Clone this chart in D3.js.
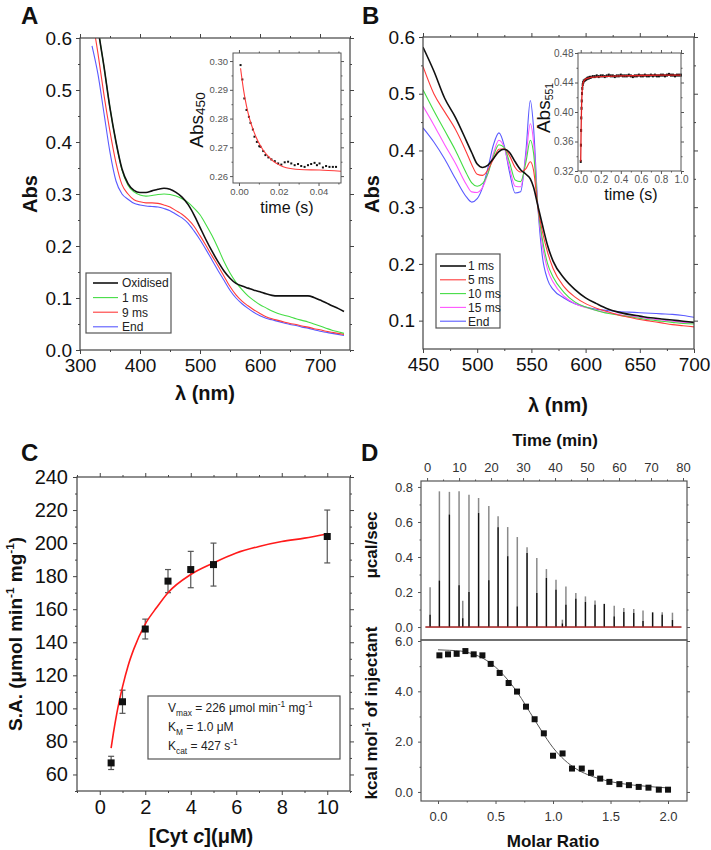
<!DOCTYPE html>
<html><head><meta charset="utf-8">
<script src="https://cdn.jsdelivr.net/npm/d3@7"></script>
<style>
html,body{margin:0;padding:0;background:#fff;}
svg text{font-family:"Liberation Sans",Arial,sans-serif;}
</style></head><body>
<svg id="fig" width="711" height="850"></svg>
<script>
// ---------------- Panel A data ----------------
const wlA = [320,330,340,350,360,370,380,390,400,410,420,430,440,450,460,470,480,490,500,510,520,530,540,550,560,570,580,590,600,610,620,630,640,650,660,670,680,690,700,710,720,730,740];
const absOxidised = [0.72,0.62,0.545,0.465,0.40,0.348,0.320,0.307,0.303,0.303,0.306,0.309,0.311,0.309,0.303,0.294,0.280,0.260,0.236,0.212,0.190,0.170,0.152,0.138,0.128,0.123,0.119,0.115,0.112,0.108,0.105,0.104,0.104,0.104,0.104,0.104,0.104,0.101,0.096,0.091,0.085,0.080,0.074];
const abs1ms = [0.72,0.62,0.545,0.465,0.40,0.346,0.317,0.304,0.298,0.296,0.297,0.299,0.300,0.299,0.296,0.291,0.284,0.273,0.260,0.241,0.220,0.196,0.170,0.148,0.130,0.116,0.104,0.095,0.087,0.081,0.075,0.070,0.067,0.064,0.060,0.057,0.054,0.050,0.046,0.042,0.038,0.035,0.032];
const abs9ms = [0.64,0.57,0.49,0.42,0.36,0.318,0.300,0.289,0.285,0.283,0.283,0.282,0.279,0.275,0.268,0.261,0.251,0.238,0.220,0.201,0.181,0.162,0.142,0.122,0.106,0.094,0.085,0.077,0.070,0.064,0.060,0.057,0.054,0.051,0.049,0.046,0.044,0.041,0.039,0.036,0.034,0.032,0.030];
const absEndA = [0.585,0.53,0.455,0.38,0.325,0.300,0.290,0.282,0.279,0.277,0.276,0.275,0.272,0.268,0.261,0.254,0.244,0.229,0.212,0.193,0.173,0.153,0.134,0.115,0.100,0.089,0.080,0.072,0.066,0.061,0.058,0.055,0.052,0.049,0.047,0.044,0.042,0.039,0.036,0.034,0.032,0.030,0.028];
const legendA = ["Oxidised","1 ms","9 ms","End"];

// inset A (Abs450 vs time)
const insetATime = [0.0008,0.0017,0.0027,0.0038,0.0050,0.0058,0.0070,0.0078,0.0090,0.0102,0.0108,0.0122,0.0133,0.0148,0.0163,0.0180,0.0197,0.0213,0.0230,0.0247,0.0263,0.0280,0.0297,0.0313,0.0330,0.0347,0.0363,0.0380,0.0392,0.0405,0.0422,0.0438,0.0455,0.0472,0.0488];
const insetAAbs = [0.2986,0.2936,0.2870,0.2830,0.2806,0.2785,0.2762,0.2737,0.2719,0.2704,0.2702,0.2687,0.2673,0.2665,0.2658,0.2652,0.2644,0.2640,0.2648,0.2650,0.2644,0.2638,0.2642,0.2635,0.2632,0.2638,0.2642,0.2646,0.2638,0.2644,0.2630,0.2635,0.2632,0.2632,0.2632];
const insetAFitTime = [0.0008,0.0023,0.0038,0.0055,0.0072,0.0095,0.0122,0.0150,0.0172,0.0205,0.0238,0.0305,0.0405,0.0513];
const insetAFitAbs = [0.2975,0.2900,0.2843,0.2795,0.2760,0.2722,0.2690,0.2667,0.2652,0.2638,0.2629,0.2623,0.2621,0.2617];

// ---------------- Panel B data ----------------
const wlB = [450,460,470,480,490,495,500,505,510,515,520,525,530,535,540,545,549,552,556,560,565,570,580,590,600,610,620,630,640,650,660,670,680,690,700];
const absB1ms = [0.582,0.540,0.492,0.458,0.417,0.396,0.376,0.370,0.374,0.386,0.398,0.402,0.396,0.380,0.366,0.358,0.350,0.335,0.302,0.270,0.232,0.205,0.175,0.155,0.140,0.130,0.121,0.115,0.111,0.108,0.105,0.103,0.101,0.099,0.097];
const absB5ms = [0.548,0.500,0.468,0.437,0.397,0.375,0.358,0.356,0.366,0.385,0.402,0.403,0.390,0.370,0.362,0.368,0.380,0.365,0.300,0.258,0.220,0.192,0.160,0.142,0.130,0.122,0.116,0.110,0.106,0.102,0.099,0.096,0.093,0.091,0.089];
const absB10ms = [0.507,0.470,0.435,0.400,0.360,0.343,0.337,0.342,0.360,0.390,0.410,0.405,0.378,0.348,0.345,0.380,0.418,0.395,0.300,0.245,0.200,0.177,0.150,0.133,0.124,0.118,0.113,0.110,0.107,0.104,0.101,0.099,0.097,0.095,0.094];
const absB15ms = [0.478,0.445,0.410,0.377,0.340,0.327,0.326,0.335,0.360,0.395,0.418,0.405,0.368,0.337,0.336,0.390,0.447,0.415,0.300,0.235,0.190,0.168,0.143,0.130,0.123,0.118,0.114,0.111,0.108,0.106,0.103,0.101,0.099,0.097,0.096];
const absBEnd = [0.440,0.415,0.385,0.350,0.318,0.309,0.315,0.335,0.370,0.410,0.431,0.408,0.360,0.325,0.327,0.400,0.488,0.440,0.300,0.215,0.172,0.155,0.140,0.130,0.124,0.120,0.118,0.116,0.115,0.114,0.113,0.112,0.111,0.109,0.106];
const legendB = ["1 ms","5 ms","10 ms","15 ms","End"];

// inset B (Abs551 vs time)
const insetBTime = [0.000,0.002,0.004,0.006,0.008,0.010,0.013,0.016,0.020,0.025,0.030,0.040,0.050,0.060,0.070,0.080,0.090,0.100,0.120,0.140,0.160,0.180,0.200,0.220,0.240,0.260,0.280,0.300,0.320,0.340,0.360,0.380,0.400,0.420,0.440,0.460,0.480,0.500,0.520,0.540,0.560,0.580,0.600,0.620,0.640,0.660,0.680,0.700,0.720,0.740,0.760,0.780,0.800,0.820,0.840,0.860,0.880,0.900,0.920,0.940,0.960,0.980,1.000];
const insetBAbs = [0.333,0.355,0.375,0.392,0.405,0.415,0.425,0.432,0.437,0.440,0.442,0.443,0.444,0.445,0.446,0.446,0.447,0.447,0.448,0.448,0.449,0.448,0.449,0.449,0.448,0.449,0.450,0.449,0.449,0.448,0.449,0.449,0.450,0.449,0.449,0.449,0.450,0.449,0.448,0.449,0.449,0.450,0.449,0.449,0.450,0.449,0.449,0.450,0.449,0.450,0.449,0.449,0.450,0.450,0.449,0.450,0.451,0.450,0.450,0.449,0.450,0.450,0.450];
const insetBFitTime = [0,0.003,0.006,0.010,0.015,0.020,0.030,0.050,0.100,0.200,0.400,0.600,0.800,1.000];
const insetBFitAbs = [0.333,0.365,0.392,0.415,0.430,0.437,0.442,0.445,0.447,0.448,0.449,0.4495,0.450,0.450];

// ---------------- Panel C data ----------------
const cytConc = [0.5,1,2,3,4,5,10];
const specActivity = [67,104,148,177,184,187,204];
const specActivityErr = [4,7,6,7,11,13,16];
const fitConc = [0.5,0.6,0.75,1,1.25,1.5,2,2.5,3,4,5,6,7,8,9,10];
const fitSA = [76,85,97,113,126,136,151,161,170,181,188,194,198,201,203,205.5];

// ---------------- Panel D data ----------------
const injTime = [0.94,3.85,6.98,10.0,11.15,13.1,16.1,19.3,22.2,25.2,28.2,31.25,34.3,37.3,40.3,42.3,43.4,46.5,49.5,52.5,55.4,58.5,61.5,64.6,67.5,70.5,73.5,76.7];
const injPeak = [0.227,0.775,0.772,0.775,0.150,0.756,0.737,0.691,0.632,0.571,0.514,0.455,0.394,0.331,0.270,0.042,0.232,0.194,0.175,0.152,0.133,0.122,0.109,0.103,0.095,0.086,0.084,0.082];
const injInner = [0.070,0.265,0.642,0.238,0.050,0.200,0.651,0.267,0.570,0.404,0.118,0.423,0.194,0.280,0.213,0.020,0.128,0.162,0.143,0.128,0.131,0.060,0.086,0.080,0.035,0.082,0.070,0.040];
const molarRatio = [0.012,0.087,0.162,0.238,0.31,0.386,0.458,0.536,0.614,0.687,0.765,0.84,0.92,1.0,1.083,1.165,1.25,1.33,1.41,1.49,1.577,1.66,1.745,1.83,1.92,2.0];
const heatValues = [5.43,5.47,5.49,5.60,5.47,5.43,5.09,4.73,4.33,3.99,3.39,2.89,2.33,1.44,1.53,0.93,0.93,0.76,0.53,0.40,0.31,0.27,0.20,0.17,0.09,0.09];
const fitRatio = [0,0.1,0.2,0.3,0.4,0.5,0.6,0.7,0.8,0.9,1.0,1.1,1.2,1.3,1.4,1.5,1.6,1.7,1.8,1.9,2.0];
const fitHeat = [5.65,5.63,5.60,5.49,5.29,4.96,4.49,3.89,3.16,2.43,1.76,1.27,0.92,0.69,0.53,0.41,0.33,0.27,0.23,0.19,0.16];

// ---------------- tick values ----------------
const ticksAx = [300,400,500,600,700], minorAx = [350,450,550,650,750];
const ticksAy = [0,0.1,0.2,0.3,0.4,0.5,0.6], minorAy = [0.05,0.15,0.25,0.35,0.45,0.55];
const ticksIAx = [0,0.02,0.04], minorIAx = [0.01,0.03,0.05];
const ticksIAy = [0.26,0.27,0.28,0.29,0.30], minorIAy = [0.265,0.275,0.285,0.295];
const ticksBx = [450,500,550,600,650,700], minorBx = [475,525,575,625,675];
const ticksBy = [0.1,0.2,0.3,0.4,0.5,0.6], minorBy = [0.15,0.25,0.35,0.45,0.55];
const ticksIBx = [0,0.2,0.4,0.6,0.8,1.0], minorIBx = [0.1,0.3,0.5,0.7,0.9];
const ticksIBy = [0.32,0.36,0.40,0.44,0.48], minorIBy = [0.34,0.38,0.42,0.46];
const ticksCx = [0,2,4,6,8,10], minorCx = [-1,1,3,5,7,9,11];
const ticksCy = [60,80,100,120,140,160,180,200,220,240], minorCy = [50,70,90,110,130,150,170,190,210,230];
const ticksDt = [0,10,20,30,40,50,60,70,80], minorDt = [5,15,25,35,45,55,65,75];
const ticksDty = [0,0.2,0.4,0.6,0.8], minorDty = [0.1,0.3,0.5,0.7];
const ticksDbx = [0,0.5,1.0,1.5,2.0], minorDbx = [0.25,0.75,1.25,1.75];
const ticksDby = [0,2,4,6], minorDby = [1,3,5];

// ---------------- helpers ----------------
const svg = d3.select("#fig");
const FONT = '"Liberation Sans", Arial, sans-serif';

function axes(g, x, y, o) {
  const [xa, xb] = x.range(), [ya, yb] = y.range();
  const col = o.color || "#444";
  const sides = [
    {fn: d3.axisBottom, s: x, t: `translate(0,${ya})`, maj: o.xMajor, min: o.xMinor, lab: o.bottom, fmt: o.xFmt, pad: o.xPad, skip: o.noBottom},
    {fn: d3.axisTop, s: x, t: `translate(0,${yb})`, maj: o.xMajor, min: o.xMinor, lab: o.top, fmt: o.xFmt, pad: o.xPadTop || o.xPad, skip: o.noTop},
    {fn: d3.axisLeft, s: y, t: `translate(${xa},0)`, maj: o.yMajor, min: o.yMinor, lab: o.left, fmt: o.yFmt, pad: o.yPad},
    {fn: d3.axisRight, s: y, t: `translate(${xb},0)`, maj: o.yMajor, min: o.yMinor, lab: false, fmt: o.yFmt, pad: o.yPad}
  ];
  sides.forEach(sd => {
    if (sd.skip) return;
    const ga = g.append("g").attr("transform", sd.t);
    ga.call(sd.fn(sd.s).tickValues(sd.maj).tickSize(o.L).tickSizeOuter(0).tickPadding(sd.pad || 4)
      .tickFormat(sd.lab ? sd.fmt : () => ""));
    if (sd.min) ga.append("g").call(sd.fn(sd.s).tickValues(sd.min).tickSize(o.m).tickSizeOuter(0).tickFormat(() => ""));
    ga.selectAll(".domain").remove();
    ga.selectAll("line").attr("stroke", col).attr("stroke-width", o.sw || 1);
    ga.selectAll("text").attr("font-size", o.fs).attr("fill", o.tc || "#111").attr("font-family", FONT);
  });
  g.append("rect").attr("x", xa).attr("y", yb).attr("width", xb - xa).attr("height", ya - yb)
    .attr("fill", "none").attr("stroke", col).attr("stroke-width", o.fw || 1.2);
}

function rich(g, parts, x, y, size, opts = {}) {
  const t = g.append("text").attr("x", 0).attr("y", 0)
    .attr("transform", `translate(${x},${y})` + (opts.rot ? ` rotate(${opts.rot})` : ""))
    .attr("text-anchor", opts.anchor || "middle")
    .attr("font-size", size).attr("font-weight", opts.bold ? "bold" : "normal")
    .attr("fill", opts.fill || "#111").attr("font-family", FONT);
  let shift = 0;
  parts.forEach(p => {
    const s = p.sub ? size * (p.shift || 0.3) : p.sup ? -size * 0.4 : 0;
    const ts = t.append("tspan").text(p.t).attr("dy", s - shift)
      .attr("font-size", (p.sub || p.sup) ? size * (p.scale || 0.62) : size);
    if (p.italic) ts.attr("font-style", "italic");
    shift = s;
  });
  return t;
}

function clip(id, x, y) {
  const [xa, xb] = x.range(), [ya, yb] = y.range();
  svg.append("clipPath").attr("id", id).append("rect")
    .attr("x", xa).attr("y", yb).attr("width", xb - xa).attr("height", ya - yb);
  return `url(#${id})`;
}

function letter(txt, x, y) {
  svg.append("text").attr("x", x).attr("y", y).text(txt).attr("font-size", 24)
    .attr("font-weight", "bold").attr("font-family", FONT).attr("fill", "#111");
}

// ================= Panel A =================
const xA = d3.scaleLinear([300, 750], [80, 350]);
const yA = d3.scaleLinear([0, 0.6], [350, 38]);
const gA = svg.append("g");
const seriesA = [absOxidised, abs1ms, abs9ms, absEndA];
const colorsA = ["#111", "#44dd44", "#ff3b3b", "#5a5aff"];
const widthsA = [1.6, 1.1, 1.1, 1.1];
const lineA = d3.line().curve(d3.curveMonotoneX);
const cpA = clip("cpA", xA, yA);
[3, 2, 1, 0].forEach(i => {
  gA.append("path").attr("clip-path", cpA)
    .attr("d", lineA(wlA.map((w, k) => [xA(w), yA(seriesA[i][k])])))
    .attr("fill", "none").attr("stroke", colorsA[i]).attr("stroke-width", widthsA[i]);
});
axes(gA, xA, yA, {xMajor: ticksAx, xMinor: minorAx, yMajor: ticksAy, yMinor: minorAy, L: 4, m: 2,
  bottom: true, left: true, xFmt: d3.format("d"), yFmt: d3.format(".1f"), fs: 19, xPad: 5, yPad: 4});
// legend A
const legA = gA.append("g");
legA.append("rect").attr("x", 86).attr("y", 273).attr("width", 85).attr("height", 60)
  .attr("fill", "#fff").attr("stroke", "#555").attr("stroke-width", 1.2);
legendA.forEach((lab, i) => {
  const yy = 283 + i * 14.6;
  legA.append("line").attr("x1", 93).attr("x2", 118).attr("y1", yy).attr("y2", yy)
    .attr("stroke", colorsA[i]).attr("stroke-width", widthsA[i]);
  legA.append("text").attr("x", 122).attr("y", yy).attr("dy", "0.36em").text(lab)
    .attr("font-size", 12).attr("font-family", FONT).attr("fill", "#222");
});
rich(gA, [{t: "Abs"}], 37, 194, 20, {rot: -90, bold: true});
rich(gA, [{t: "λ (nm)"}], 205, 400, 20, {bold: true});
letter("A", 21, 24);

// inset A
const xIA = d3.scaleLinear([-0.003, 0.0513], [233, 341]);
const yIA = d3.scaleLinear([0.2576, 0.3028], [183, 53]);
const gIA = svg.append("g");
gIA.append("rect").attr("x", 233).attr("y", 53).attr("width", 108).attr("height", 130).attr("fill", "#fff");
gIA.selectAll("rect.pt").data(insetATime).join("rect").attr("class", "pt")
  .attr("x", (d) => xIA(d) - 1).attr("y", (d, i) => yIA(insetAAbs[i]) - 1)
  .attr("width", 2).attr("height", 2).attr("fill", "#111");
gIA.append("path").attr("d", d3.line().curve(d3.curveMonotoneX)(insetAFitTime.map((t, i) => [xIA(t), yIA(insetAFitAbs[i])])))
  .attr("fill", "none").attr("stroke", "#ff3b3b").attr("stroke-width", 1.1);
axes(gIA, xIA, yIA, {xMajor: ticksIAx, xMinor: minorIAx, yMajor: ticksIAy, yMinor: minorIAy, L: 3, m: 1.5,
  bottom: true, left: true, xFmt: d3.format(".2f"), yFmt: d3.format(".2f"), fs: 9.5, tc: "#555", xPad: 2, yPad: 2, color: "#555", fw: 1});
rich(gIA, [{t: "Abs"}, {t: "450", sub: true, scale: 0.72, shift: 0.12}], 203, 120, 19, {rot: -90});
rich(gIA, [{t: "time (s)"}], 287, 213, 16);

// ================= Panel B =================
const xB = d3.scaleLinear([450, 700], [423, 694]);
const yB = d3.scaleLinear([0.05, 0.6], [349, 37]);
const gB = svg.append("g");
const seriesB = [absB1ms, absB5ms, absB10ms, absB15ms, absBEnd];
const colorsB = ["#111", "#ff3b3b", "#44dd44", "#ff55ff", "#5a5aff"];
const widthsB = [1.6, 1.1, 1.1, 1.1, 1.1];
const cpB = clip("cpB", xB, yB);
[4, 3, 2, 1, 0].forEach(i => {
  gB.append("path").attr("clip-path", cpB)
    .attr("d", lineA(wlB.map((w, k) => [xB(w), yB(seriesB[i][k])])))
    .attr("fill", "none").attr("stroke", colorsB[i]).attr("stroke-width", widthsB[i]);
});
axes(gB, xB, yB, {xMajor: ticksBx, xMinor: minorBx, yMajor: ticksBy, yMinor: minorBy, L: 4, m: 2,
  bottom: true, left: true, xFmt: d3.format("d"), yFmt: d3.format(".1f"), fs: 19, xPad: 5, yPad: 4});
const legB = gB.append("g");
legB.append("rect").attr("x", 436).attr("y", 254).attr("width", 64).attr("height", 74)
  .attr("fill", "#fff").attr("stroke", "#555").attr("stroke-width", 1.2);
legendB.forEach((lab, i) => {
  const yy = 266 + i * 13.8;
  legB.append("line").attr("x1", 440).attr("x2", 466).attr("y1", yy).attr("y2", yy)
    .attr("stroke", colorsB[i]).attr("stroke-width", widthsB[i]);
  legB.append("text").attr("x", 468).attr("y", yy).attr("dy", "0.36em").text(lab)
    .attr("font-size", 12).attr("font-family", FONT).attr("fill", "#222");
});
rich(gB, [{t: "Abs"}], 379, 194, 20, {rot: -90, bold: true});
rich(gB, [{t: "λ (nm)"}], 558, 412, 20, {bold: true});
letter("B", 362, 24);

// inset B
const xIB = d3.scaleLinear([-0.027, 1.0], [578, 681]);
const yIB = d3.scaleLinear([0.32, 0.48], [171, 53]);
const gIB = svg.append("g");
gIB.append("rect").attr("x", 578).attr("y", 53).attr("width", 103).attr("height", 118).attr("fill", "#fff");
gIB.selectAll("rect.pt").data(insetBTime).join("rect").attr("class", "pt")
  .attr("x", (d) => xIB(d) - 1).attr("y", (d, i) => yIB(insetBAbs[i]) - 1.5)
  .attr("width", 2).attr("height", 3).attr("fill", "#111");
gIB.append("path").attr("d", d3.line()(insetBFitTime.map((t, i) => [xIB(t), yIB(insetBFitAbs[i])])))
  .attr("fill", "none").attr("stroke", "#e02020").attr("stroke-width", 1.3);
axes(gIB, xIB, yIB, {xMajor: ticksIBx, xMinor: minorIBx, yMajor: ticksIBy, yMinor: minorIBy, L: 3, m: 1.5,
  bottom: true, left: true, xFmt: d3.format(".1f"), yFmt: d3.format(".2f"), fs: 10, tc: "#555", xPad: 1.5, yPad: 1.5, color: "#555", fw: 1});
rich(gIB, [{t: "Abs"}, {t: "551", sub: true, scale: 0.55, shift: 0.15}], 550, 108, 19, {rot: -90});
rich(gIB, [{t: "time (s)"}], 631, 200, 16);

// ================= Panel C =================
const xC = d3.scaleLinear([-1, 11], [77, 350]);
const yC = d3.scaleLinear([50, 240], [791, 477]);
const gC = svg.append("g");
axes(gC, xC, yC, {xMajor: ticksCx, xMinor: minorCx, yMajor: ticksCy, yMinor: minorCy, L: 4, m: 2,
  bottom: true, left: true, xFmt: d3.format("d"), yFmt: d3.format("d"), fs: 20, xPad: 5, yPad: 5});
cytConc.forEach((c, i) => {
  const x = xC(c), lo = yC(specActivity[i] - specActivityErr[i]), hi = yC(specActivity[i] + specActivityErr[i]);
  gC.append("line").attr("x1", x).attr("x2", x).attr("y1", lo).attr("y2", hi).attr("stroke", "#555").attr("stroke-width", 1.2);
  [lo, hi].forEach(yy => gC.append("line").attr("x1", x - 3).attr("x2", x + 3).attr("y1", yy).attr("y2", yy)
    .attr("stroke", "#555").attr("stroke-width", 1.2));
});
gC.append("path").attr("d", d3.line().curve(d3.curveMonotoneX)(fitConc.map((c, i) => [xC(c), yC(fitSA[i])])))
  .attr("fill", "none").attr("stroke", "#ff1a1a").attr("stroke-width", 1.6);
gC.selectAll("rect.pt").data(cytConc).join("rect").attr("class", "pt")
  .attr("x", d => xC(d) - 3.5).attr("y", (d, i) => yC(specActivity[i]) - 3.5)
  .attr("width", 7).attr("height", 7).attr("fill", "#111");
gC.append("rect").attr("x", 148).attr("y", 696).attr("width", 192).attr("height", 63)
  .attr("fill", "#fff").attr("stroke", "#555").attr("stroke-width", 1.2);
rich(gC, [{t: "V"}, {t: "max", sub: true, scale: 0.7}, {t: " = 226 μmol min"}, {t: "-1", sup: true, scale: 0.7}, {t: " mg"}, {t: "-1", sup: true, scale: 0.7}], 168, 712, 12, {anchor: "start", fill: "#222"});
rich(gC, [{t: "K"}, {t: "M", sub: true, scale: 0.7}, {t: " = 1.0 μM"}], 168, 731, 12, {anchor: "start", fill: "#222"});
rich(gC, [{t: "K"}, {t: "cat", sub: true, scale: 0.7}, {t: " = 427 s"}, {t: "-1", sup: true, scale: 0.7}], 168, 750, 12, {anchor: "start", fill: "#222"});
rich(gC, [{t: "S.A. (μmol min"}, {t: "-1", sup: true}, {t: " mg"}, {t: "-1", sup: true}, {t: ")"}], 22, 634, 19, {rot: -90, bold: true});
rich(gC, [{t: "[Cyt "}, {t: "c", italic: true}, {t: "](μM)"}], 201, 843, 20, {bold: true});
letter("C", 21, 461);

// ================= Panel D =================
const xDt = d3.scaleLinear([-1.9, 81.25], [421, 687]);
const yDt = d3.scaleLinear([-0.074, 0.834], [640, 481]);
const xDb = d3.scaleLinear([-0.148, 2.165], [421, 687]);
const yDb = d3.scaleLinear([-0.36, 6.04], [801, 640]);
const gD = svg.append("g");
gD.append("line").attr("x1", xDt(-0.5)).attr("x2", xDt(79.5)).attr("y1", yDt(0)).attr("y2", yDt(0))
  .attr("stroke", "#111").attr("stroke-width", 1);
injTime.forEach((t, i) => {
  gD.append("line").attr("x1", xDt(t)).attr("x2", xDt(t)).attr("y1", yDt(0)).attr("y2", yDt(injPeak[i]))
    .attr("stroke", "#8a8a8a").attr("stroke-width", 1.5);
  gD.append("line").attr("x1", xDt(t)).attr("x2", xDt(t)).attr("y1", yDt(0)).attr("y2", yDt(injInner[i]))
    .attr("stroke", "#111").attr("stroke-width", 1.3);
});
gD.append("line").attr("x1", xDt(-0.5)).attr("x2", xDt(79.5)).attr("y1", yDt(0)).attr("y2", yDt(0))
  .attr("stroke", "#e52020").attr("stroke-width", 1);
axes(gD, xDt, yDt, {xMajor: ticksDt, xMinor: minorDt, yMajor: ticksDty, yMinor: minorDty, L: 3, m: 1.5,
  top: true, left: true, noBottom: true, xFmt: d3.format("d"), yFmt: d3.format(".1f"), fs: 13, tc: "#333", xPad: 6, yPad: 5, color: "#555"});
gD.append("path").attr("d", d3.line().curve(d3.curveMonotoneX)(fitRatio.map((r, i) => [xDb(r), yDb(fitHeat[i])])))
  .attr("fill", "none").attr("stroke", "#555").attr("stroke-width", 1);
gD.selectAll("rect.pt").data(molarRatio).join("rect").attr("class", "pt")
  .attr("x", d => xDb(d) - 3).attr("y", (d, i) => yDb(heatValues[i]) - 3)
  .attr("width", 6).attr("height", 6).attr("fill", "#111");
axes(gD, xDb, yDb, {xMajor: ticksDbx, xMinor: minorDbx, yMajor: ticksDby, yMinor: minorDby, L: 3, m: 1.5,
  bottom: true, left: true, noTop: true, xFmt: d3.format(".1f"), yFmt: d3.format(".1f"), fs: 13, tc: "#333", xPad: 8, yPad: 5, color: "#555"});
rich(gD, [{t: "Time (min)"}], 555, 446, 17, {bold: true});
rich(gD, [{t: "μcal/sec"}], 377, 545, 17, {rot: -90, bold: true});
rich(gD, [{t: "kcal mol"}, {t: "-1", sup: true}, {t: " of injectant"}], 377, 713, 17, {rot: -90, bold: true});
rich(gD, [{t: "Molar Ratio"}], 553, 847, 17, {bold: true});
letter("D", 361, 461);
</script></body></html>
